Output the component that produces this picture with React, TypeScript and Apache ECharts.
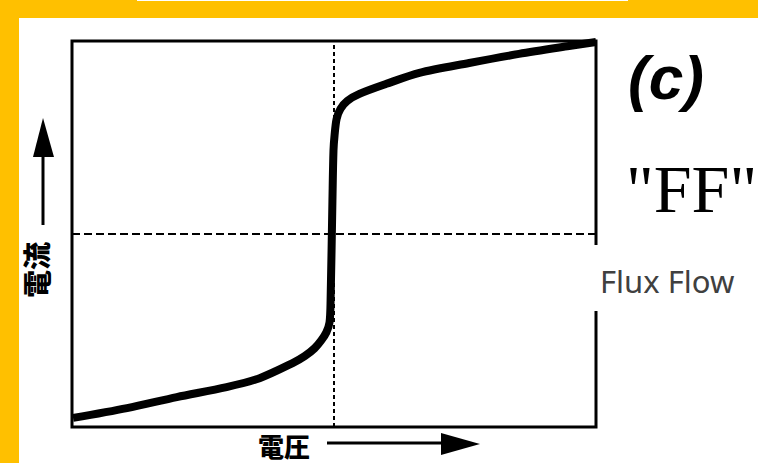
import React, { useEffect, useRef } from "react";
import * as echarts from "echarts";

// I–V characteristic (normalised voltage, normalised current)
const voltage = [-0.996, -0.79, -0.6, -0.41, -0.284, -0.158, -0.112, -0.074, -0.048, -0.029, -0.017, -0.013, -0.006, -0.002, 0.002, 0.01, 0.025, 0.051, 0.097, 0.2, 0.326, 0.516, 0.706, 0.897, 1.0];
const current = [-0.953, -0.902, -0.845, -0.793, -0.747, -0.669, -0.633, -0.592, -0.55, -0.509, -0.457, -0.344, 0.173, 0.432, 0.509, 0.597, 0.649, 0.69, 0.726, 0.778, 0.835, 0.886, 0.933, 0.974, 0.995];
const xLabel = "電圧";
const yLabel = "電流";
const panelTag = "(c)";
const modeTag = '"FF"';
const modeName = "Flux Flow";

export default function App() {
  const ref = useRef<HTMLDivElement>(null);
  useEffect(() => {
    if (!ref.current) return;
    const chart = echarts.init(ref.current, undefined, { renderer: "svg" });
    const data = voltage.map((v, i) => [v, current[i]]);
    chart.setOption({
      animation: false,
      backgroundColor: "#ffffff",
      grid: { left: 72, top: 41, width: 524, height: 386, show: true, borderColor: "#000", borderWidth: 3, backgroundColor: "transparent" },
      xAxis: { type: "value", min: -1, max: 1, axisLine: { show: false }, axisTick: { show: false }, axisLabel: { show: false }, splitLine: { show: false } },
      yAxis: { type: "value", min: -1, max: 1, axisLine: { show: false }, axisTick: { show: false }, axisLabel: { show: false }, splitLine: { show: false } },
      series: [
        {
          type: "line",
          data,
          smooth: 0.3,
          showSymbol: false,
          lineStyle: { color: "#000", width: 8, join: "round" },
          markLine: {
            silent: true,
            symbol: "none",
            label: { show: false },
            data: [
              { xAxis: 0, lineStyle: { color: "#000", width: 2, type: [4, 3] } },
              { yAxis: 0, lineStyle: { color: "#000", width: 2, type: [8, 4] } },
            ],
          },
        },
      ],
      graphic: [
        { type: "rect", shape: { x: 0, y: 0, width: 758, height: 18 }, style: { fill: "#FFC000" } },
        { type: "rect", shape: { x: 0, y: 0, width: 19, height: 463 }, style: { fill: "#FFC000" } },
        { type: "rect", shape: { x: 137, y: 0, width: 491, height: 1 }, style: { fill: "#ffffff" } },
        // y label + arrow
        { type: "text", x: 36, y: 270, rotation: Math.PI / 2, style: { text: yLabel, font: '900 28px "Noto Sans CJK JP"', fill: "#000", align: "center", verticalAlign: "middle" } },
        { type: "line", shape: { x1: 43, y1: 225, x2: 43, y2: 152 }, style: { stroke: "#000", lineWidth: 3 } },
        { type: "polygon", shape: { points: [[33, 157], [43, 118], [54, 157]] }, style: { fill: "#000" } },
        // x label + arrow
        { type: "text", x: 284, y: 432, style: { text: xLabel, font: '900 26px "Noto Sans CJK JP"', fill: "#000", align: "center", verticalAlign: "top" } },
        { type: "line", shape: { x1: 327, y1: 443, x2: 446, y2: 443 }, style: { stroke: "#000", lineWidth: 3 } },
        { type: "polygon", shape: { points: [[441, 433], [480, 444], [441, 455]] }, style: { fill: "#000" } },
        // right-side annotations
        { type: "text", x: 628, y: 77, style: { text: panelTag, font: 'italic bold 62px "Liberation Sans"', fill: "#000", align: "left", verticalAlign: "middle" } },
        { type: "text", x: 626, y: 189, style: { text: modeTag, font: '68px "Liberation Serif"', fill: "#000", align: "left", verticalAlign: "middle" } },
        { type: "rect", shape: { x: 584, y: 245, width: 174, height: 66 }, style: { fill: "#ffffff" } },
        { type: "text", x: 600, y: 281, style: { text: modeName, font: '31px "Noto Sans"', fill: "#404040", align: "left", verticalAlign: "middle" } },
      ],
    });
    return () => chart.dispose();
  }, []);
  return <div ref={ref} style={{ position: "fixed", left: 0, top: 0, width: 758, height: 463 }} />;
}
